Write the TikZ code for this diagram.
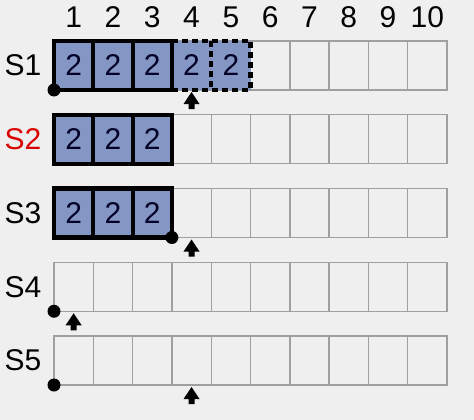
\documentclass[tikz,border=0pt]{standalone}
\usepackage{fontspec}
\setmainfont{Liberation Sans}
\usetikzlibrary{calc}
\begin{document}
\begin{tikzpicture}[x=1pt,y=-1pt,
  cell/.style={draw=gray!75, line width=1.4pt, minimum width=39.3pt, minimum height=49pt, inner sep=0pt, outer sep=0pt, anchor=north west},
  thickbox/.style={draw=black, line width=4.2pt},
  dashbox/.style={draw=black, line width=4.2pt, dash pattern=on 6pt off 4pt},
  lbl/.style={font=\fontsize{30}{30}\selectfont, inner sep=0pt},
  num/.style={lbl, text=black!85!blue},
  dot/.style={circle, fill=black, minimum size=13pt, inner sep=0pt},
  ptr/.style={fill=black, draw=none}
]
\definecolor{bluefill}{HTML}{8497C4}
\definecolor{bg}{HTML}{EFEFEF}
\fill[bg] (0,0) rectangle (474,420);
\useasboundingbox (0,0) rectangle (474,420);
% column numbers
\foreach \i in {1,...,10} {
  \node[lbl] (col\i) at ({54+39.3*(\i-0.5)},17) {\i};
}
% rows
\foreach \r/\t in {1/41,2/114.75,3/188.5,4/262.25,5/336} {
  \foreach \i in {1,...,10} {
    \node[cell] (r\r c\i) at ({54+39.3*(\i-1)},\t) {};
  }
}
% row labels
\node[lbl] (s1) at (23,65.5) {S1};
\node[lbl, text=red!85!black] (s2) at (23,139.25) {S2};
\node[lbl] (s3) at (23,213) {S3};
\node[lbl] (s4) at (23,286.75) {S4};
\node[lbl] (s5) at (23,360.5) {S5};
% filled cells
\foreach \r in {1,2,3} {
  \foreach \i in {1,2,3} {
    \fill[bluefill] (r\r c\i.north west) rectangle (r\r c\i.south east);
    \node[num] at (r\r c\i.center) {2};
  }
  \draw[thickbox] (r\r c1.north west) rectangle (r\r c3.south east);
  \draw[thickbox] (r\r c2.north west) -- (r\r c2.south west);
  \draw[thickbox] (r\r c3.north west) -- (r\r c3.south west);
}
% dashed cells in S1
\foreach \i in {4,5} {
  \fill[bluefill] (r1c\i.north west) rectangle (r1c\i.south east);
  \node[num] at (r1c\i.center) {2};
}
\draw[dashbox] (r1c4.north west) -- (r1c5.north east) -- (r1c5.south east) -- (r1c4.south west);
\draw[dashbox] (r1c5.north west) -- (r1c5.south west);
\draw[thickbox] (r1c4.north west) -- (r1c4.south west);
% dots
\node[dot] (d1) at (r1c1.south west) {};
\node[dot] (d3) at (r3c3.south east) {};
\node[dot] (d4) at (r4c1.south west) {};
\node[dot] (d5) at (r5c1.south west) {};
% pointers
\foreach \r/\i in {1/4,3/4,4/1,5/4} {
  \coordinate (p\r) at ($(r\r c\i.south west)+(19.65,2)$);
  \fill[ptr] (p\r) -- ++(8,12) -- ++(-5,0) -- ++(0,5) -- ++(-6,0) -- ++(0,-5) -- ++(-5,0) -- cycle;
}
\end{tikzpicture}
\end{document}
